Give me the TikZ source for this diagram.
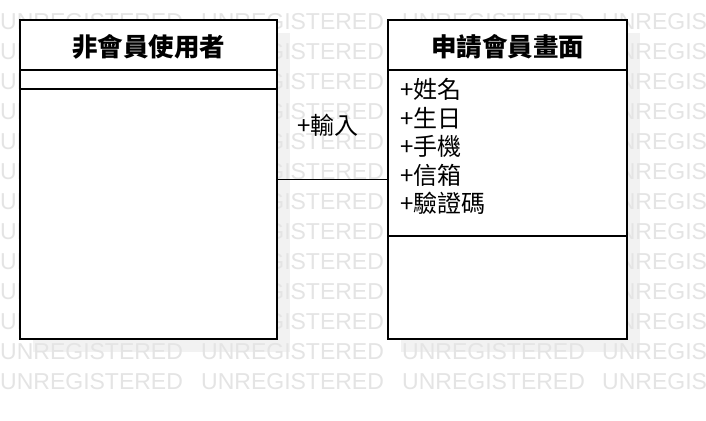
\documentclass[tikz,border=0pt]{standalone}
\usepackage{fontspec}
\setmainfont{Liberation Sans}
\newfontfamily\cjk{Noto Sans CJK TC}
\definecolor{wmgray}{RGB}{228,228,228}
\definecolor{shadowgray}{RGB}{242,242,242}
\tikzset{
  wmtext/.style={anchor=base west, inner sep=0pt, text=wmgray, font=\fontsize{23}{23}\selectfont},
  umlbox/.style={draw, fill=white, line width=2pt, outer sep=0pt, inner sep=0pt, anchor=north west},
  ctitle/.style={inner sep=0pt, font=\cjk\bfseries\fontsize{25.5}{30}\selectfont},
  attr/.style={inner sep=0pt, anchor=base west, font=\cjk\fontsize{24}{28.6}\selectfont},
  divider/.style={line width=2pt},
  assoc/.style={line width=1pt},
}
\begin{document}
\begin{tikzpicture}[x=1pt,y=-1pt]
\useasboundingbox (0,0) rectangle (706,420);
\fill[white] (0,0) rectangle (706,420);
% shadows
\fill[shadowgray] (33,33) rectangle (290,352);
\fill[shadowgray] (401,33) rectangle (640,352);
% watermark
\foreach \r in {0,...,12} {
  \foreach \c in {0,...,2} {
    \node[wmtext] (wm-\r-\c) at (201*\c, 29.2+30*\r) {UNREGISTERED};
  }
  \node[wmtext] (wm-\r-3) at (602, 29.2+30*\r) {UNREGIS};
}
% boxes
\node[umlbox, minimum width=257pt, minimum height=319pt] (L) at (20,20) {};
\node[umlbox, minimum width=239pt, minimum height=319pt] (R) at (388,20) {};
\draw[divider] (20,70) -- (277,70);
\draw[divider] (20,89) -- (277,89);
\draw[divider] (388,70) -- (627,70);
\draw[divider] (388,236) -- (627,236);
% association
\draw[assoc] (L) -- (R);
% texts
\node[ctitle] (Lt) at (148.5,46.5) {非會員使用者};
\node[ctitle] (Rt) at (507.5,46.5) {申請會員畫面};
\node[attr] (lbl) at (297,134.1) {+輸入};
\node[attr, anchor=north west, align=left] (attrs) at (400,78)
  {+姓名\\+生日\\+手機\\+信箱\\+驗證碼};
\end{tikzpicture}
\end{document}
